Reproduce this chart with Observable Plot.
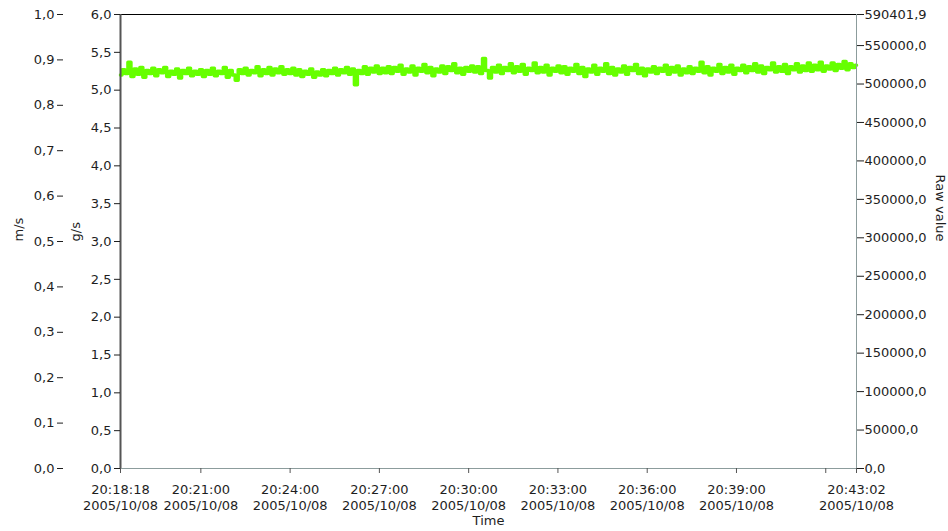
<!DOCTYPE html>
<html><head><meta charset="utf-8">
<script src="https://cdn.jsdelivr.net/npm/d3@7"></script>
<script src="https://cdn.jsdelivr.net/npm/@observablehq/plot@0.6"></script>
<style>body{margin:0;background:#fff;} #chart svg{display:block;}</style>
</head><body><div id="chart"></div>
<script>
// ---- data ----
const startTime = "2005-10-08T20:18:18Z";
const endTime = "2005-10-08T20:43:02Z";
const flowGs = [
5.20,5.27,5.22,5.37,5.18,5.28,5.21,5.30,5.17,5.26,5.22,5.29,5.19,5.27,5.23,5.30,5.18,5.25,5.21,5.28,5.16,5.26,5.22,5.29,5.19,5.25,5.21,
5.27,5.18,5.26,5.21,5.29,5.19,5.25,5.22,5.30,5.17,5.26,5.20,5.13,5.27,5.22,5.29,5.20,5.26,5.23,5.31,5.19,5.27,5.22,5.30,5.20,5.28,5.23,5.31,5.21,5.27,
5.22,5.29,5.20,5.27,5.18,5.25,5.21,5.28,5.17,5.24,5.20,5.27,5.19,5.26,5.22,5.29,5.20,5.27,5.23,5.30,5.21,5.28,5.07,5.26,5.22,5.31,5.21,5.29,5.24,5.32,5.22,
5.29,5.23,5.31,5.22,5.30,5.25,5.33,5.21,5.28,5.24,5.32,5.20,5.29,5.25,5.34,5.23,5.30,5.19,5.28,5.24,5.32,5.22,5.31,5.26,5.35,5.23,5.29,5.21,5.30,5.25,
5.32,5.24,5.31,5.22,5.42,5.26,5.16,5.30,5.24,5.33,5.22,5.30,5.26,5.35,5.23,5.31,5.25,5.34,5.21,5.29,5.26,5.36,5.23,5.30,5.24,5.33,5.20,5.29,5.25,5.32,
5.23,5.31,5.21,5.29,5.25,5.34,5.22,5.30,5.18,5.28,5.24,5.33,5.21,5.29,5.25,5.35,5.22,5.30,5.20,5.28,5.24,5.32,5.21,5.30,5.26,5.34,5.22,5.29,5.19,5.28,5.24,
5.31,5.22,5.29,5.25,5.33,5.21,5.30,5.24,5.32,5.20,5.28,5.23,5.31,5.22,5.29,5.25,5.37,5.23,5.31,5.20,5.29,5.25,5.34,5.22,5.30,5.24,5.33,5.21,5.29,5.26,
5.33,5.23,5.31,5.26,5.35,5.24,5.32,5.22,5.30,5.27,5.36,5.24,5.31,5.25,5.34,5.22,5.31,5.27,5.35,5.24,5.32,5.26,5.36,5.25,5.33,5.27,5.37,5.25,5.32,5.28,5.36,5.26,5.34,5.29,5.38,5.27,5.35,5.30,5.33
];
const timeTicks = [
"2005-10-08T20:18:18Z","2005-10-08T20:21:00Z","2005-10-08T20:24:00Z","2005-10-08T20:27:00Z",
"2005-10-08T20:30:00Z","2005-10-08T20:33:00Z","2005-10-08T20:36:00Z","2005-10-08T20:39:00Z",
"2005-10-08T20:42:00Z","2005-10-08T20:43:02Z"
];
const timeTickLabels = ["20:18:18","20:21:00","20:24:00","20:27:00","20:30:00","20:33:00","20:36:00","20:39:00","","20:43:02"];
const dateLabel = "2005/10/08";
const gsTicks = [0,0.5,1,1.5,2,2.5,3,3.5,4,4.5,5,5.5,6];
const msTicks = [0,0.1,0.2,0.3,0.4,0.5,0.6,0.7,0.8,0.9,1.0];
const rawTicks = [0,50000,100000,150000,200000,250000,300000,350000,400000,450000,500000,550000,590401.9];
const gsMax = 6, msMax = 1, rawMax = 590401.9;
const labelMs = "m/s", labelGs = "g/s", labelRaw = "Raw value", labelTime = "Time";

// ---- build ----
const t0 = new Date(startTime), t1 = new Date(endTime);
const n = flowGs.length;
const data = flowGs.map((v, i) => ({time: new Date(+t0 + i * (t1 - t0) / (n - 1)), gs: v}));
const tickDates = timeTicks.map(s => new Date(s));
const tickLabelMap = new Map(tickDates.map((d, i) => [+d, timeTickLabels[i] ? timeTickLabels[i] + "\n" + dateLabel : ""]));
const fmt1 = d => (Math.round(d * 10) / 10).toFixed(1).replace(".", ",");

const plot = Plot.plot({
  width: 948, height: 531,
  marginLeft: 120, marginRight: 92, marginTop: 14, marginBottom: 63,
  style: {fontFamily: "'DejaVu Sans', Verdana, sans-serif", fontSize: "13px", color: "#1e1e1e", background: "#fff", overflow: "visible"},
  x: {type: "utc", domain: [t0, t1]},
  y: {domain: [0, gsMax]},
  marks: [
    Plot.line(data, {x: "time", y: "gs", stroke: "#66ff00", strokeWidth: 3.5, curve: "step"}),
    Plot.ruleY([gsMax], {stroke: "#000"}),
    Plot.ruleY([0], {stroke: "#8c9c9c"}),
    Plot.ruleX([t1], {stroke: "#8c9c9c"}),
    Plot.ruleX([t0], {stroke: "#555", strokeWidth: 2}),
    Plot.axisY(gsTicks, {anchor: "left", tickSize: 6, tickPadding: 3, tickFormat: fmt1, label: null}),
    Plot.axisY(msTicks.map(v => v * gsMax / msMax), {anchor: "left", dx: -57, tickSize: 6, tickPadding: 3, tickFormat: d => fmt1(d * msMax / gsMax), label: null}),
    Plot.axisY(rawTicks.map(v => v * gsMax / rawMax), {anchor: "right", tickSize: 7, tickPadding: 1, tickFormat: d => fmt1(d * rawMax / gsMax), label: null}),
    Plot.axisX(tickDates, {anchor: "bottom", tickSize: 5, tickPadding: 9, tickFormat: d => tickLabelMap.get(+d) ?? "", lineHeight: 1.23, label: null, stroke: "#555"}),
    Plot.text([labelMs], {text: d => d, frameAnchor: "left", dx: -102, rotate: -90}),
    Plot.text([labelGs], {text: d => d, frameAnchor: "left", dx: -45, rotate: -90}),
    Plot.text([labelRaw], {text: d => d, frameAnchor: "right", dx: 84, rotate: 90}),
    Plot.text([labelTime], {text: d => d, frameAnchor: "bottom", dy: 56})
  ]
});
document.getElementById("chart").appendChild(plot);
</script>
</body></html>
